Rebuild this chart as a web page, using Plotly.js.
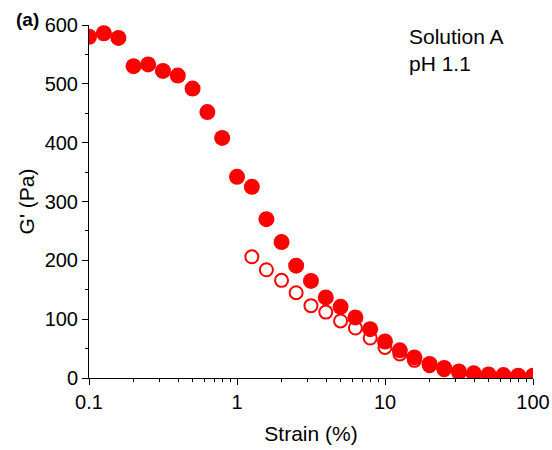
<!DOCTYPE html>
<html><head><meta charset="utf-8">
<script src="https://cdn.plot.ly/plotly-3.0.1.min.js"></script>
<style>html,body{margin:0;padding:0;background:#fff}#c{width:552px;height:450px}</style>
</head><body><div id="c"></div>
<script>
const strainFilled = [0.1,0.126,0.158,0.2,0.251,0.316,0.398,0.501,0.631,0.794,1,1.26,1.58,2,2.51,3.16,3.98,5.01,6.31,7.94,10,12.6,15.8,20,25.1,31.6,39.8,50.1,63.1,79.4,100];
const gFilled = [580,586,578,530,533,522,514,492,452,408,342,325,270,231,191,165,137,121,103,83,62,47,35,24,17,11,8,6,5,4,4];
const strainOpen = [1.26,1.58,2,2.51,3.16,3.98,5.01,6.31,7.94,10,12.6,15.8,20,25.1,31.6,39.8,50.1,63.1,79.4,100];
const gOpen = [206,184,166,145,123,112,97,85,68,52,41,30,21,14,9,6,5,4,3,3];
const xTicks = [0.1,1,10,100];
const xTickText = ['0.1','1','10','100'];

const red = '#ff0000';
const data = [
  {x: strainOpen, y: gOpen, type:'scatter', mode:'markers', cliponaxis:true,
   marker:{symbol:'circle-open', size:13, color:red, line:{width:2, color:red}}},
  {x: strainFilled, y: gFilled, type:'scatter', mode:'markers', cliponaxis:true,
   marker:{symbol:'circle', size:16, color:red, line:{width:0}}}
];
const font = {family:'Liberation Sans, Arial, sans-serif', color:'#000'};
const layout = {
  width:552, height:450, showlegend:false,
  paper_bgcolor:'#fff', plot_bgcolor:'#fff',
  margin:{l:89, r:19, t:25, b:72},
  font: Object.assign({size:20}, font),
  xaxis:{type:'log', range:[-1,2], tickmode:'array', tickvals:xTicks, ticktext:xTickText,
    showline:true, linecolor:'#000', linewidth:1, ticks:'outside', ticklen:6, tickcolor:'#000',
    showgrid:false, zeroline:false, tickfont:{size:20}, automargin:false,
    minor:{ticks:'outside', ticklen:3, tickcolor:'#000', dtick:'D1', showgrid:false},
    title:{text:'Strain (%)', font:{size:21}, standoff:14}},
  yaxis:{range:[0,600], dtick:100, tick0:0,
    showline:true, linecolor:'#000', linewidth:1, ticks:'outside', ticklen:6, tickcolor:'#000',
    showgrid:false, zeroline:false, tickfont:{size:20}, automargin:false,
    minor:{ticks:'outside', ticklen:3, tickcolor:'#000', dtick:50, showgrid:false},
    title:{text:"G' (Pa)", font:{size:21}, standoff:4}},
  annotations:[
    {xref:'paper', yref:'paper', x:-0.17, y:1.015, xanchor:'left', yanchor:'middle', text:'<b>(a)</b>', showarrow:false, font:{size:19}},
    {xref:'paper', yref:'paper', x:0.717, y:1.005, xanchor:'left', yanchor:'top', align:'left', text:'Solution A<br>pH 1.1', showarrow:false, font:{size:21}}
  ]
};
Plotly.newPlot('c', data, layout, {staticPlot:true, displayModeBar:false});
</script></body></html>
